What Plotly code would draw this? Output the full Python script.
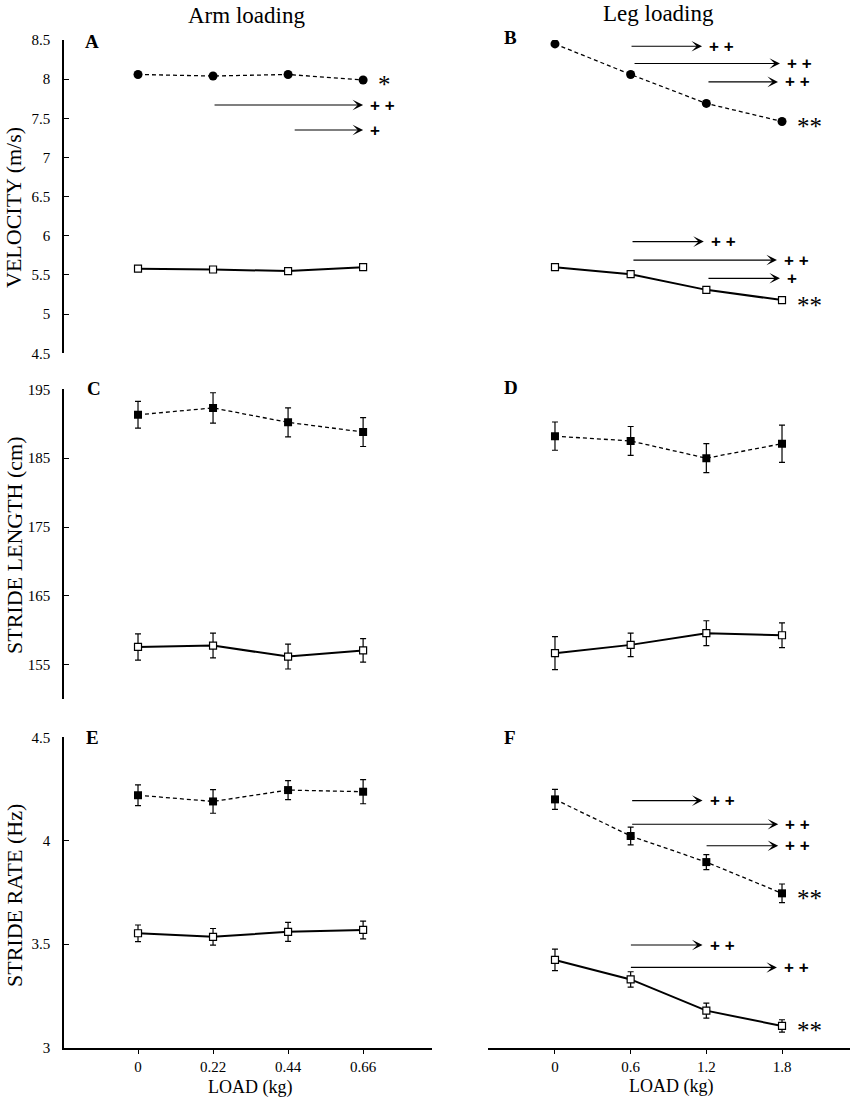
import plotly.graph_objects as go

# loads used in each column (kg)
arm_load = [0, 0.22, 0.44, 0.66]
leg_load = [0, 0.6, 1.2, 1.8]

# velocity (m/s): fast (filled) and slow (open) running
vel_arm_fast = [8.06, 8.04, 8.06, 7.99]
vel_arm_fast_err = [0.03, 0.03, 0.03, 0.03]
vel_arm_slow = [5.58, 5.57, 5.55, 5.60]
vel_arm_slow_err = [0.01, 0.01, 0.01, 0.01]
vel_leg_fast = [8.45, 8.06, 7.69, 7.46]
vel_leg_fast_err = [0.03, 0.03, 0.03, 0.03]
vel_leg_slow = [5.60, 5.51, 5.31, 5.18]
vel_leg_slow_err = [0.015, 0.015, 0.015, 0.015]

# stride length (cm)
len_arm_fast = [191.3, 192.3, 190.2, 188.8]
len_arm_fast_err = [1.95, 2.2, 2.1, 2.1]
len_arm_slow = [157.6, 157.8, 156.2, 157.1]
len_arm_slow_err = [1.9, 1.8, 1.8, 1.7]
len_leg_fast = [188.2, 187.5, 185.0, 187.1]
len_leg_fast_err = [2.05, 2.1, 2.1, 2.7]
len_leg_slow = [156.7, 157.9, 159.6, 159.3]
len_leg_slow_err = [2.4, 1.7, 1.8, 1.8]

# stride rate (Hz)
rate_arm_fast = [4.22, 4.19, 4.245, 4.237]
rate_arm_fast_err = [0.05, 0.057, 0.046, 0.058]
rate_arm_slow = [3.553, 3.536, 3.56, 3.569]
rate_arm_slow_err = [0.04, 0.04, 0.046, 0.043]
rate_leg_fast = [4.20, 4.023, 3.897, 3.746]
rate_leg_fast_err = [0.048, 0.043, 0.036, 0.045]
rate_leg_slow = [3.424, 3.33, 3.179, 3.105]
rate_leg_slow_err = [0.052, 0.037, 0.036, 0.03]

# y axis ticks
vel_ticks = [4.5, 5, 5.5, 6, 6.5, 7, 7.5, 8, 8.5]
len_ticks = [155, 165, 175, 185, 195]
rate_ticks = [3, 3.5, 4, 4.5]

# significance arrows: (panel, from load, to load, y value, label)
arrows = [
    (1, 0.22, 0.66, 7.67, "+ +"),
    (1, 0.455, 0.66, 7.35, "+"),
    (2, 0.595, 1.166, 8.42, "+ +"),
    (2, 0.619, 1.784, 8.20, "+ +"),
    (2, 1.205, 1.768, 7.965, "+ +"),
    (2, 0.603, 1.18, 5.926, "+ +"),
    (2, 0.61, 1.76, 5.69, "+ +"),
    (2, 1.205, 1.784, 5.457, "+"),
    (6, 0.6, 1.17, 4.194, "+ +"),
    (6, 0.6, 1.77, 4.08, "+ +"),
    (6, 1.19, 1.77, 3.976, "+ +"),
    (6, 0.59, 1.17, 3.496, "+ +"),
    (6, 0.59, 1.76, 3.388, "+ +"),
]

SERIF = "Liberation Serif"

fig = go.Figure()

panels = [
    # (panel, loads, fast, fast_err, slow, slow_err, fast symbol)
    (1, arm_load, vel_arm_fast, vel_arm_fast_err, vel_arm_slow, vel_arm_slow_err, "circle"),
    (2, leg_load, vel_leg_fast, vel_leg_fast_err, vel_leg_slow, vel_leg_slow_err, "circle"),
    (3, arm_load, len_arm_fast, len_arm_fast_err, len_arm_slow, len_arm_slow_err, "square"),
    (4, leg_load, len_leg_fast, len_leg_fast_err, len_leg_slow, len_leg_slow_err, "square"),
    (5, arm_load, rate_arm_fast, rate_arm_fast_err, rate_arm_slow, rate_arm_slow_err, "square"),
    (6, leg_load, rate_leg_fast, rate_leg_fast_err, rate_leg_slow, rate_leg_slow_err, "square"),
]

for p, xs, fast, fast_err, slow, slow_err, sym in panels:
    xa = "x" if p == 1 else f"x{p}"
    ya = "y" if p == 1 else f"y{p}"
    fig.add_trace(go.Scatter(
        x=xs, y=slow, xaxis=xa, yaxis=ya, mode="lines+markers",
        line=dict(color="black", width=2),
        marker=dict(symbol="square", size=7, color="white", line=dict(color="black", width=1.2)),
        error_y=dict(type="data", array=slow_err, color="black", thickness=1.2, width=3),
        showlegend=False,
    ))
    fig.add_trace(go.Scatter(
        x=xs, y=fast, xaxis=xa, yaxis=ya, mode="lines+markers",
        line=dict(color="black", width=1.3, dash="4px,3px"),
        marker=dict(symbol=sym, size=9 if sym == "circle" else 8, color="black"),
        error_y=dict(type="data", array=fast_err, color="black", thickness=1.2, width=3),
        showlegend=False,
    ))

annotations = []

for p, x0, x1, yv, label in arrows:
    xa = "x" if p == 1 else f"x{p}"
    ya = "y" if p == 1 else f"y{p}"
    annotations.append(dict(
        x=x1, y=yv, ax=x0, ay=yv, xref=xa, yref=ya, axref=xa, ayref=ya,
        text="", showarrow=True, arrowhead=3, arrowsize=1.6, arrowwidth=1.1,
        arrowcolor="black", standoff=0,
    ))
    annotations.append(dict(
        x=x1, y=yv, xref=xa, yref=ya, text=f"<b>{label}</b>", showarrow=False,
        xanchor="left", yanchor="middle", xshift=5,
        font=dict(family="Liberation Sans", size=17, color="black"),
    ))

# asterisks next to the last point of a series
stars = [
    (1, arm_load[-1], vel_arm_fast[-1], "*"),
    (2, leg_load[-1], vel_leg_fast[-1], "**"),
    (2, leg_load[-1], vel_leg_slow[-1], "**"),
    (6, leg_load[-1], rate_leg_fast[-1], "**"),
    (6, leg_load[-1], rate_leg_slow[-1], "**"),
]
for p, xv, yv, label in stars:
    xa = "x" if p == 1 else f"x{p}"
    ya = "y" if p == 1 else f"y{p}"
    annotations.append(dict(
        x=xv, y=yv, xref=xa, yref=ya, text=label, showarrow=False,
        xanchor="left", yanchor="middle", xshift=13, yshift=-5,
        font=dict(family=SERIF, size=25, color="black"),
    ))

# panel letters
letters = [("A", 92, 42), ("B", 510, 37), ("C", 94, 388), ("D", 511, 387), ("E", 92, 737), ("F", 510, 737)]
for txt, px, py in letters:
    annotations.append(dict(
        x=px / 850, y=1 - py / 1103, xref="paper", yref="paper", text=f"<b>{txt}</b>",
        showarrow=False, xanchor="center", yanchor="middle",
        font=dict(family=SERIF, size=19, color="black"),
    ))

# column titles, axis titles
texts = [
    ("Arm loading", 246, 15, 0, 23),
    ("Leg loading", 658, 14, 0, 23),
    ("VELOCITY (m/s)", 14, 208, -90, 22),
    ("STRIDE LENGTH (cm)", 14, 545, -90, 22),
    ("STRIDE RATE (Hz)", 14, 896, -90, 22),
    ("LOAD (kg)", 250, 1087, 0, 18),
    ("LOAD (kg)", 671, 1086, 0, 18),
]
for txt, px, py, ang, sz in texts:
    annotations.append(dict(
        x=px / 850, y=1 - py / 1103, xref="paper", yref="paper", text=txt,
        showarrow=False, xanchor="center", yanchor="middle", textangle=ang,
        font=dict(family=SERIF, size=sz, color="black"),
    ))

left_dom = [64 / 850, 432 / 850]
right_dom = [488 / 850, 1.0]
left_rng = [-0.217, 0.862]
right_rng = [-0.531, 2.339]
row1 = [1 - 353.3 / 1103, 1 - 40 / 1103]
row2 = [1 - 699.3 / 1103, 1 - 389.3 / 1103]
row3 = [1 - 1047.7 / 1103, 1 - 737.3 / 1103]

tickfont = dict(family=SERIF, size=15, color="black")


def yaxis_visible(dom, rng, ticks, anchor):
    return dict(
        domain=dom, range=rng, anchor=anchor, showline=True, linecolor="black", linewidth=1.6,
        ticks="inside", ticklen=5, tickcolor="black", tickvals=ticks,
        ticktext=[f"{t:g}" for t in ticks], tickfont=tickfont, ticklabelstandoff=9,
        showgrid=False, zeroline=False, automargin=False,
    )


def hidden(dom, rng, anchor):
    return dict(domain=dom, range=rng, anchor=anchor, visible=False, automargin=False)


def xaxis_visible(dom, rng, ticks, anchor):
    return dict(
        domain=dom, range=rng, anchor=anchor, showline=True, linecolor="black", linewidth=1.8,
        ticks="outside", ticklen=4, tickcolor="black", tickvals=ticks,
        ticktext=[f"{t:g}" for t in ticks], tickfont=tickfont,
        showgrid=False, zeroline=False, automargin=False,
    )


fig.update_layout(
    template="none",
    width=850, height=1103,
    margin=dict(l=0, r=0, t=0, b=0),
    paper_bgcolor="white", plot_bgcolor="white",
    xaxis=hidden(left_dom, left_rng, "y"),
    yaxis=yaxis_visible(row1, [4.5, 8.5], vel_ticks, "x"),
    xaxis2=hidden(right_dom, right_rng, "y2"),
    yaxis2=hidden(row1, [4.5, 8.5], "x2"),
    xaxis3=hidden(left_dom, left_rng, "y3"),
    yaxis3=yaxis_visible(row2, [150, 195], len_ticks, "x3"),
    xaxis4=hidden(right_dom, right_rng, "y4"),
    yaxis4=hidden(row2, [150, 195], "x4"),
    xaxis5=xaxis_visible(left_dom, left_rng, arm_load, "y5"),
    yaxis5=yaxis_visible(row3, [3, 4.5], rate_ticks, "x5"),
    xaxis6=xaxis_visible(right_dom, right_rng, leg_load, "y6"),
    yaxis6=hidden(row3, [3, 4.5], "x6"),
    annotations=annotations,
)

# the page body has a default 8px margin; drop it so the figure fills the window
fig.write_html(
    "out.html",
    config={"displayModeBar": False},
    post_script="document.body.style.margin='0';document.body.style.overflow='hidden';",
)
